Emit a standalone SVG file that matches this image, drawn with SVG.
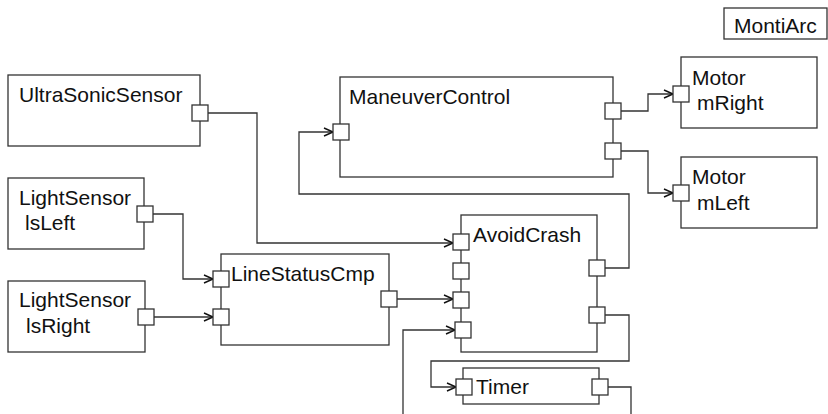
<svg xmlns="http://www.w3.org/2000/svg" width="828" height="414" viewBox="0 0 828 414">
<defs>
<marker id="arr" markerWidth="12" markerHeight="10" refX="10" refY="5" orient="auto" markerUnits="userSpaceOnUse">
<path d="M1,1 L10,5 L1,9" fill="none" stroke="#111" stroke-width="1.5"/>
</marker>
<style>
.box{fill:#fff;stroke:#333;stroke-width:1.3}
.port{fill:#fff;stroke:#333;stroke-width:1.3}
.lbl{font-family:"Liberation Sans",Arial,sans-serif;font-size:21px;fill:#111}
.con{fill:none;stroke:#333;stroke-width:1.3}
.arr{marker-end:url(#arr)}
</style>
</defs>
<rect width="828" height="414" fill="#fff"/>
<g id="connectors">
<path class="con arr" d="M208,113 H257 V243 H453"/>
<path class="con arr" d="M153,214 H183 V279 H213"/>
<path class="con arr" d="M154,317 H213"/>
<path class="con arr" d="M397,299 H453"/>
<path class="con arr" d="M605,268 H629 V194 H299 V132 H333"/>
<path class="con arr" d="M621,111 H648 V94 H673"/>
<path class="con arr" d="M621,151 H648 V193 H673"/>
<path class="con arr" d="M605,315 H629 V361 H431 V387 H456"/>
<path class="con" d="M608,387 H631 V420"/>
<path class="con arr" d="M403,420 V330 H455"/>
</g>
<g id="MontiArc">
<rect class="box" x="724" y="8" width="103" height="31"/>
<text class="lbl" x="734" y="33">MontiArc</text>
</g>
<g id="UltraSonicSensor">
<rect class="box" x="8" y="75" width="192" height="71"/>
<text class="lbl" x="19" y="102">UltraSonicSensor</text>
<rect class="port" x="192" y="105" width="16" height="16"/>
</g>
<g id="lsLeft">
<rect class="box" x="8" y="178" width="136" height="71"/>
<text class="lbl" x="19" y="205">LightSensor</text>
<text class="lbl" x="25" y="230">lsLeft</text>
<rect class="port" x="137" y="206" width="16" height="16"/>
</g>
<g id="lsRight">
<rect class="box" x="8" y="281" width="137" height="71"/>
<text class="lbl" x="19" y="307">LightSensor</text>
<text class="lbl" x="26" y="333">lsRight</text>
<rect class="port" x="138" y="309" width="16" height="16"/>
</g>
<g id="LineStatusCmp">
<rect class="box" x="221" y="254" width="168" height="91"/>
<text class="lbl" x="231" y="281">LineStatusCmp</text>
<rect class="port" x="213" y="271" width="16" height="16"/>
<rect class="port" x="213" y="309" width="16" height="16"/>
<rect class="port" x="381" y="291" width="16" height="16"/>
</g>
<g id="ManeuverControl">
<rect class="box" x="340" y="77" width="273" height="100"/>
<text class="lbl" x="349" y="104">ManeuverControl</text>
<rect class="port" x="333" y="124" width="16" height="16"/>
<rect class="port" x="605" y="103" width="16" height="16"/>
<rect class="port" x="605" y="143" width="16" height="16"/>
</g>
<g id="mRight">
<rect class="box" x="681" y="57" width="136" height="71"/>
<text class="lbl" x="692" y="85">Motor</text>
<text class="lbl" x="697" y="110">mRight</text>
<rect class="port" x="673" y="86" width="16" height="16"/>
</g>
<g id="mLeft">
<rect class="box" x="681" y="157" width="136" height="71"/>
<text class="lbl" x="692" y="184">Motor</text>
<text class="lbl" x="697" y="210">mLeft</text>
<rect class="port" x="673" y="185" width="16" height="16"/>
</g>
<g id="AvoidCrash">
<rect class="box" x="461" y="215" width="136" height="137"/>
<text class="lbl" x="473" y="242">AvoidCrash</text>
<rect class="port" x="453" y="234" width="16" height="16"/>
<rect class="port" x="453" y="263" width="16" height="16"/>
<rect class="port" x="453" y="292" width="16" height="16"/>
<rect class="port" x="455" y="322" width="16" height="16"/>
<rect class="port" x="589" y="260" width="16" height="16"/>
<rect class="port" x="589" y="307" width="16" height="16"/>
</g>
<g id="Timer">
<rect class="box" x="463" y="368" width="136" height="36"/>
<text class="lbl" x="476" y="394">Timer</text>
<rect class="port" x="456" y="379" width="16" height="16"/>
<rect class="port" x="592" y="379" width="16" height="16"/>
</g>
</svg>
